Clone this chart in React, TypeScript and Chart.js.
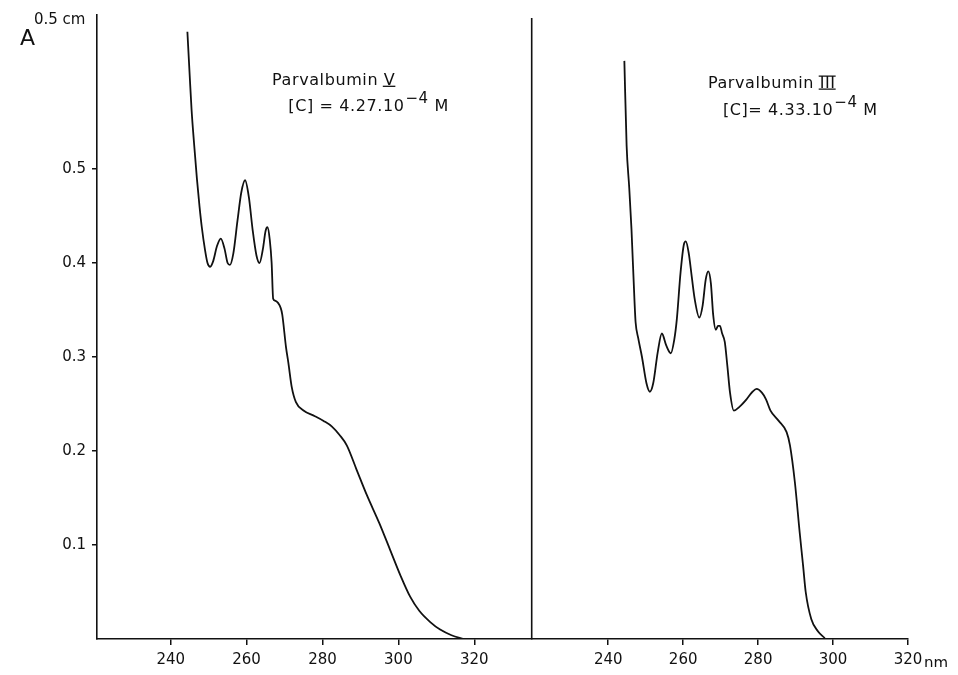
import React, { useEffect, useRef } from "react";
import { Chart, registerables } from "chart.js";

Chart.register(...registerables);

// Parvalbumin V spectrum (left panel)
const wavelengthV = [
  244.4, 245.0, 245.5, 246.2, 246.9, 247.6, 248.2, 249.0, 249.7, 250.4,
  251.2, 252.2, 253.2, 254.2, 255.0, 255.6, 256.5, 257.6, 258.6, 259.6,
  260.6, 261.6, 262.6, 263.4, 264.3, 265.0, 265.5, 266.1, 266.6, 267.0,
  267.5, 269.0, 269.4, 270.4, 271.0, 271.9, 273.0, 275.0, 278.0, 280.3,
  282.5, 284.5, 286.4, 289.0, 291.7, 295.0, 297.9, 300.5, 303.1, 305.5,
  308.4, 311.0, 314.0, 317.2,
];
const absorbanceV = [
  0.646, 0.6, 0.563, 0.525, 0.49, 0.46, 0.438, 0.415, 0.4, 0.396,
  0.402, 0.418, 0.426, 0.415, 0.4, 0.398, 0.41, 0.445, 0.475, 0.488,
  0.47, 0.435, 0.408, 0.4, 0.415, 0.434, 0.438, 0.425, 0.4, 0.362,
  0.36, 0.352, 0.345, 0.31, 0.294, 0.268, 0.252, 0.243, 0.237, 0.232,
  0.226, 0.217, 0.206, 0.18, 0.153, 0.123, 0.094, 0.068, 0.045, 0.03,
  0.018, 0.01, 0.004, 0.0,
];

// Parvalbumin III spectrum (right panel)
const wavelengthIII = [
  244.3, 244.9, 245.6, 246.2, 247.0, 247.3, 248.0, 249.0, 250.2, 251.1,
  252.0, 253.2, 254.3, 255.5, 256.7, 257.6, 258.3, 259.3, 260.2, 260.7,
  261.5, 262.3, 263.1, 264.3, 265.2, 266.0, 266.7, 267.4, 268.0, 268.7,
  269.3, 269.8, 270.4, 271.1, 271.8, 272.5, 273.5, 275.0, 276.9, 278.5,
  279.6, 281.0, 282.1, 283.3, 285.5, 287.6, 288.5, 289.8, 291.1, 292.0,
  292.7, 294.2, 296.0, 297.8,
];
const absorbanceIII = [
  0.615, 0.525, 0.48, 0.436, 0.36, 0.337, 0.32, 0.3, 0.272, 0.263,
  0.272, 0.305, 0.325, 0.312, 0.304, 0.318, 0.34, 0.39, 0.42, 0.423,
  0.41, 0.385, 0.361, 0.342, 0.355, 0.382, 0.391, 0.378, 0.345, 0.329,
  0.333, 0.333, 0.325, 0.316, 0.29, 0.262, 0.243, 0.247, 0.255, 0.263,
  0.266, 0.262, 0.255, 0.243, 0.232, 0.22, 0.206, 0.167, 0.113, 0.078,
  0.05, 0.021, 0.008, 0.001,
];

const xTickValues = [240, 260, 280, 300, 320];
const yTickValues = [0.1, 0.2, 0.3, 0.4, 0.5];

const seriesNames = ["Parvalbumin", "Parvalbumin"];
const seriesNumerals = ["V", "III"];
const seriesConcPrefix = ["[C] = 4.27.10", "[C]= 4.33.10"];
const concExponent = "\u22124";
const concUnit = " M";
// anchor positions in data units (nm, absorbance) for the two labels
const labelX = [266.7, 266.6];
const labelY1 = [0.589, 0.586];
const labelX2 = [271.0, 270.6];
const labelY2 = [0.562, 0.557];

const INK = "#111";
const FONT = "'DejaVu Sans', sans-serif";

const textPlugin = {
  id: "spectrumText",
  afterDraw(chart: any) {
    const ctx = chart.ctx as CanvasRenderingContext2D;
    const { x, x2, y } = chart.scales;
    const area = chart.chartArea;
    ctx.save();
    ctx.fillStyle = INK;
    ctx.strokeStyle = INK;

    // middle vertical axis line separating the two panels
    ctx.lineWidth = 1.6;
    ctx.beginPath();
    ctx.moveTo(x2.left, area.top + 3);
    ctx.lineTo(x2.left, area.bottom);
    ctx.stroke();

    // "A" and "0.5 cm"
    ctx.textBaseline = "alphabetic";
    ctx.textAlign = "left";
    ctx.font = `22px ${FONT}`;
    ctx.fillText("A", 12, 37);
    ctx.font = `15px ${FONT}`;
    ctx.fillText("0.5 cm", 26, 16);

    // "nm" unit after the last tick label
    ctx.font = `15px ${FONT}`;
    ctx.fillText("nm", x2.right + 16, area.bottom + 29);

    const scalesX = [x, x2];
    for (let i = 0; i < 2; i++) {
      const sx = scalesX[i];
      ctx.font = `16px ${FONT}`;
      (ctx as any).letterSpacing = "0.6px";
      const px = sx.getPixelForValue(labelX[i]);
      const py = y.getPixelForValue(labelY1[i]);
      const nameText = seriesNames[i] + " ";
      ctx.fillText(nameText, px, py);
      const nw = ctx.measureText(nameText).width;
      const num = seriesNumerals[i];
      ctx.fillText(num, px + nw, py);
      const numW = ctx.measureText(num).width;
      ctx.lineWidth = 1.3;
      ctx.beginPath();
      ctx.moveTo(px + nw - 1, py + 1);
      ctx.lineTo(px + nw + numW, py + 1);
      if (num === "III") {
        ctx.moveTo(px + nw - 1, py - 12);
        ctx.lineTo(px + nw + numW, py - 12);
      }
      ctx.stroke();

      const qx = sx.getPixelForValue(labelX2[i]);
      const qy = y.getPixelForValue(labelY2[i]);
      ctx.fillText(seriesConcPrefix[i], qx, qy);
      const pw = ctx.measureText(seriesConcPrefix[i]).width;
      ctx.font = `15px ${FONT}`;
      ctx.fillText(concExponent, qx + pw + 1, qy - 8);
      const ew = ctx.measureText(concExponent).width;
      ctx.font = `16px ${FONT}`;
      ctx.fillText(concUnit, qx + pw + ew + 1, qy);
      (ctx as any).letterSpacing = "0px";
    }
    ctx.restore();
  },
};

export default function App() {
  const ref = useRef<HTMLCanvasElement | null>(null);

  useEffect(() => {
    if (!ref.current) return;
    const tickFont = { family: FONT, size: 15 };
    const xCommon = (stackWeight: number, min: number, max: number) => ({
      type: "linear" as const,
      position: "bottom" as const,
      stack: "wavelength",
      stackWeight,
      min,
      max,
      afterBuildTicks: (s: any) => {
        s.ticks = xTickValues.map((v) => ({ value: v }));
      },
      afterFit: (s: any) => {
        s.height = 28;
        s.paddingLeft = 0;
        s.paddingRight = 0;
      },
      grid: {
        drawOnChartArea: false,
        drawTicks: true,
        color: INK,
        tickLength: 6,
        lineWidth: 1.5,
      },
      border: { color: INK, width: 1.6 },
      ticks: {
        color: INK,
        font: tickFont,
        padding: 6,
        maxRotation: 0,
        autoSkip: false,
        callback: (v: any) => String(v),
      },
    });

    const chart = new Chart(ref.current, {
      type: "line",
      data: {
        datasets: [
          {
            label: "Parvalbumin V",
            data: wavelengthV.map((w, i) => ({ x: w, y: absorbanceV[i] })),
            xAxisID: "x",
            yAxisID: "y",
            borderColor: INK,
            borderWidth: 1.8,
            pointRadius: 0,
            cubicInterpolationMode: "monotone",
            fill: false,
          },
          {
            label: "Parvalbumin III",
            data: wavelengthIII.map((w, i) => ({ x: w, y: absorbanceIII[i] })),
            xAxisID: "x2",
            yAxisID: "y",
            borderColor: INK,
            borderWidth: 1.8,
            pointRadius: 0,
            cubicInterpolationMode: "monotone",
            fill: false,
          },
        ],
      },
      options: {
        animation: false,
        responsive: false,
        maintainAspectRatio: false,
        layout: { padding: { top: 7, right: 42, left: 0, bottom: 0 } },
        plugins: { legend: { display: false }, tooltip: { enabled: false } },
        scales: {
          x: xCommon(434.7, 220.58, 335.13),
          x2: xCommon(376.3, 219.57, 320),
          y: {
            type: "linear",
            position: "left",
            min: 0,
            max: 0.6638,
            afterBuildTicks: (s: any) => {
              s.ticks = yTickValues.map((v) => ({ value: v }));
            },
            afterFit: (s: any) => {
              s.width = 89;
              s.paddingTop = 0;
              s.paddingBottom = 0;
            },
            grid: {
              drawOnChartArea: false,
              color: INK,
              tickLength: 5,
              lineWidth: 1.5,
            },
            border: { color: INK, width: 1.6 },
            ticks: {
              color: INK,
              font: tickFont,
              padding: 6,
              callback: (v: any) => Number(v).toFixed(1),
            },
          },
        },
      } as any,
      plugins: [textPlugin],
    });
    return () => chart.destroy();
  }, []);

  return (
    <div style={{ width: 942, height: 659 }}>
      <canvas ref={ref} width={942} height={659} />
    </div>
  );
}
